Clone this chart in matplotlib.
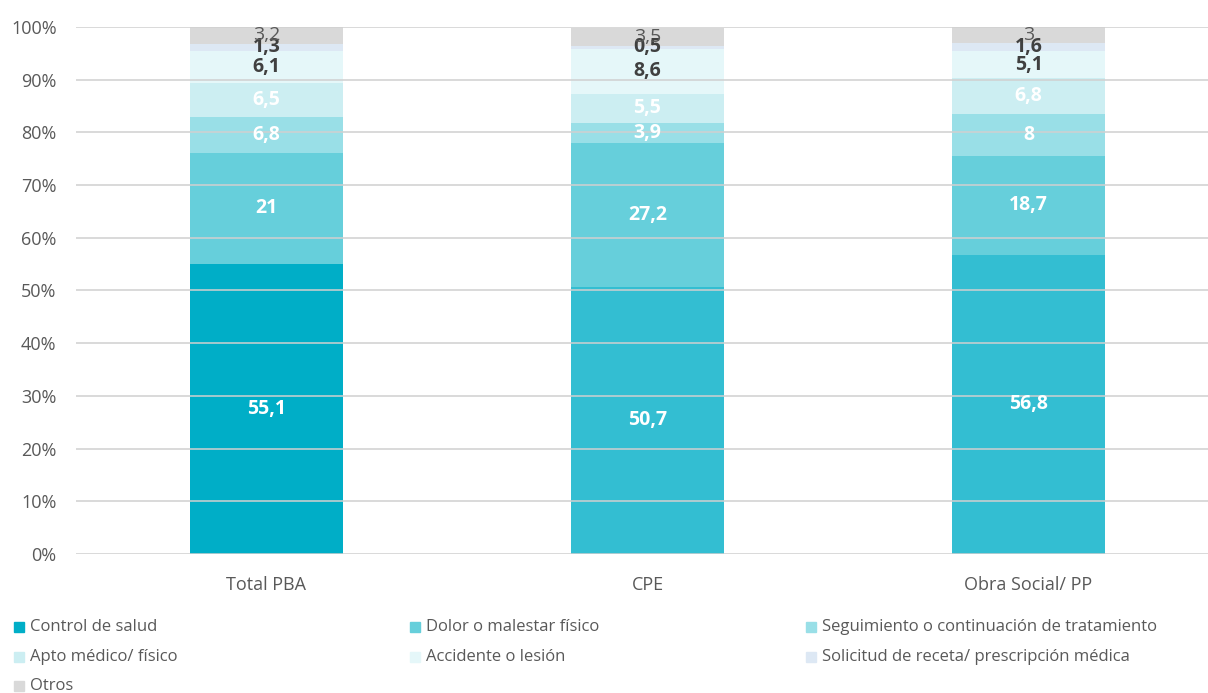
import matplotlib
matplotlib.use("Agg")
import matplotlib.pyplot as plt
from matplotlib.patches import Rectangle
import numpy as np

categories = ["Total PBA", "CPE", "Obra Social/ PP"]
series_names = ["Control de salud", "Dolor o malestar físico",
                "Seguimiento o continuación de tratamiento", "Apto médico/ físico",
                "Accidente o lesión", "Solicitud de receta/ prescripción médica", "Otros"]
control = [55.1, 50.7, 56.8]
dolor = [21, 27.2, 18.7]
seguimiento = [6.8, 3.9, 8]
apto = [6.5, 5.5, 6.8]
accidente = [6.1, 8.6, 5.1]
solicitud = [1.3, 0.5, 1.6]
otros = [3.2, 3.5, 3]
label_texts = [
    ["55,1", "50,7", "56,8"],
    ["21", "27,2", "18,7"],
    ["6,8", "3,9", "8"],
    ["6,5", "5,5", "6,8"],
    ["6,1", "8,6", "5,1"],
    ["1,3", "0,5", "1,6"],
    ["3,2", "3,5", "3"],
]
values = [control, dolor, seguimiento, apto, accidente, solicitud, otros]

colors = ["#00AEC7", "#66CFDB", "#99DFE7", "#CCEEF2", "#E5F7F9", "#DDE8F4", "#D9D9D9"]
control_bar_colors = ["#00AEC7", "#33BED2", "#33BED2"]
label_colors = ["white", "white", "white", "white", "#404040", "#404040", "#595959"]
label_weights = ["bold"] * 6 + ["normal"]

W, H = 1208, 693
fig = plt.figure(figsize=(W / 100, H / 100), dpi=100)
ax = fig.add_axes([76 / W, 1 - 554 / H, (1219 - 76) / W, (554 - 27) / H])

x = np.arange(len(categories))
bottom = np.zeros(len(categories))
for i, vals in enumerate(values):
    col = control_bar_colors if i == 0 else colors[i]
    bars = ax.bar(x, vals, 0.404, bottom=bottom, color=col, zorder=2, linewidth=0)
    for j, b in enumerate(bars):
        ax.text(x[j], bottom[j] + vals[j] / 2, label_texts[i][j], ha="center", va="center",
                color=label_colors[i], fontsize=14, fontweight=label_weights[i],
                family="Open Sans", zorder=5)
    bottom += np.array(vals)

ax.set_xlim(-0.5, 2.5)
ax.set_ylim(0, 100)
ax.set_yticks(np.arange(0, 101, 10))
ax.set_yticklabels([f"{v}%" for v in range(0, 101, 10)])
ax.set_xticks(x)
ax.set_xticklabels(categories)
for yv in range(0, 101, 10):
    ax.axhline(yv, color="#D0D0D0", linewidth=1.3, zorder=3, alpha=0.85)
for s in ax.spines.values():
    s.set_visible(False)
ax.tick_params(axis="both", length=0, labelsize=13, labelcolor="#595959")
ax.tick_params(axis="y", pad=14)
ax.tick_params(axis="x", pad=16)
for t in ax.get_xticklabels() + ax.get_yticklabels():
    t.set_family("Open Sans")

# legend
col_x = [14, 410, 806]
row_y = [627, 657, 686]
for i, name in enumerate(series_names):
    c, r = i % 3, i // 3
    fig.patches.append(Rectangle((col_x[c] / W, 1 - (row_y[r] + 5) / H), 10 / W, 10 / H,
                                 transform=fig.transFigure, color=colors[i], figure=fig))
    fig.text((col_x[c] + 16) / W, 1 - row_y[r] / H, name, ha="left", va="center",
             fontsize=12, color="#595959", family="Open Sans")

fig.savefig("out.png", dpi=100)
